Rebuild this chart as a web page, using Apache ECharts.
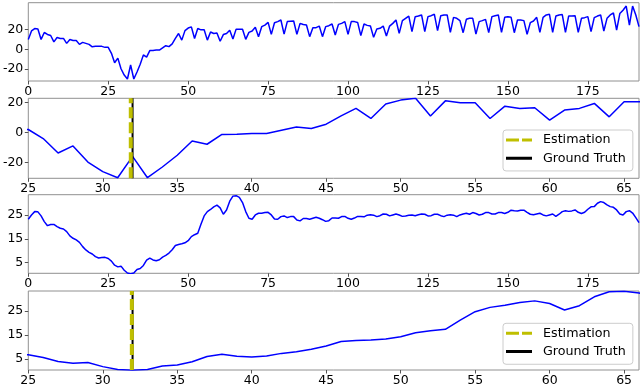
<!DOCTYPE html>
<html>
<head>
<meta charset="utf-8">
<script src="https://cdn.jsdelivr.net/npm/echarts@6/dist/echarts.min.js"></script>
<style>
html,body{margin:0;padding:0;background:#fff;}
#c{width:640px;height:385px;}
</style>
</head>
<body>
<div id="c"></div>
<script>
// Raw signal (panels 1 & 2), index 0..191
var rawSignal = [10,18.6,21,20.5,10,17,15,14,7.5,12,11,11,6,10,9,9,5,7,6,5,2.5,3,3,3,2,
2,-4,-13.6,-8.9,-19.6,-26,-30,-15.8,-30,-22.9,-15.1,-5.6,-7.8,-1.3,-1.1,-0.7,-0.7,1.5,3.7,2.7,
5.5,11,16,9.3,18.9,21.5,22.7,11,21,19.7,19.7,9.3,17.5,16,16.4,8.2,14.9,16,19.3,10.4,20.4,20.4,
20.2,10.1,17.1,18.5,22.2,12.8,22.9,24.5,27.2,15.1,26.9,28,29.6,15.4,28,28.3,28.6,15.1,26.2,25,24.5,
12.8,21.9,21.9,23.5,12.8,22.9,23.9,25.6,14.4,25.2,26.2,28,15.1,28,28,27.2,13.8,25.6,24.2,23.5,
12.1,20.5,21.2,23.5,13.4,23.5,26.2,29.6,16.1,29,31.3,33.6,17.8,33,33.6,34.7,17.8,33,34,35.4,
18.9,34,34.7,34.7,17.1,32.3,31.3,29,16.8,30.3,31.3,31.3,15.4,28,29,30.3,16.8,33,34,34.7,
17.1,32.3,33,32.3,16.8,29.6,29.6,29,15.1,26.9,28.6,32.3,17.1,32.3,34.7,35.4,17.1,33.6,34.7,35.1,
17.1,33.6,33.6,34,17.1,31.3,32,33,17.8,32,33.6,34.7,18.5,31.3,34.7,36.7,19.5,36.1,39.4,43.7,
24.5,43.7,34.7,22.9];
// Smoothed signal (panels 3 & 4), index 0..191
var smoothSignal = [23.2,25,26.4,26.3,24.6,22.2,20.5,21,21,20.1,19.4,19.1,18,16.2,15.2,14.5,13.5,11.7,10.3,9.3,8.6,7.5,6.9,7.1,7.2,
6.7,5.6,3.9,3.2,3.5,1.8,0.6,0.3,0.6,2.1,2.5,3.8,6,6.9,6.1,5.8,6.2,7.3,8,9,
10.4,12.2,12.6,12.9,13.3,14.2,15.9,16.7,17.3,21.1,24.6,26.4,27.3,28.4,29.1,28,25.3,27.1,30.8,32.9,33.1,32.4,
30.2,26.4,23.6,23.2,25,25.7,25.7,26,26.1,25,23.3,23.2,24.3,24.6,23.9,24.3,24.3,22.9,22.5,23.5,23.5,23.2,23.6,24,
23.6,23,22.3,22.6,23.7,23.7,23.6,24.3,24.4,23.6,23.2,23.7,24.4,24.3,24.2,24.9,25.1,24.9,24.3,24.7,
25.4,25.3,24.6,25,25.4,25,24.4,24.6,24.9,25,24.7,25.1,25.4,25.3,24.6,24.7,25.3,25.3,24.7,24.3,
24.9,25.1,24.9,24.3,25,25.4,25.7,25.3,26,25.6,25,25.3,26,26,25.4,25.4,26,26,25.6,26.1,
27,26.8,26.7,27,27,26.1,25.3,25.1,25.4,25.7,25,24.6,25,25.4,24.4,25.3,26.4,26.8,26.5,26.7,
27.1,26.1,25.6,26.1,27.4,28.4,28.5,29.9,30.6,30.2,29.2,28.5,28.2,27.1,25.4,25,26.4,26.8,25.8,23.9,21.8];
var fullTicks = [0,25,50,75,100,125,150,175];
var zoomTicks = [25,30,35,40,45,50,55,60,65];
var rawYTicks = [-20,0,20];
var smoothYTicks = [5,15,25];
var estimationX = [31.88, 31.95];   // panel 2, panel 4
var groundTruthX = 32;
var legendNames = ['Estimation','Ground Truth'];

function pts(arr){ return arr.map(function(v,i){ return [i,v]; }); }

var FONT = 'DejaVu Sans';
var FS = 12.5;
var lims = [
  {xmin:0, xmax:191, ymin:-32, ymax:47.1, xt:fullTicks, yt:rawYTicks, top:2.7, h:78.3},
  {xmin:25, xmax:66, ymin:-30.4, ymax:22.7, xt:zoomTicks, yt:rawYTicks, top:98.3, h:80},
  {xmin:0, xmax:191, ymin:0.5, ymax:33.5, xt:fullTicks, yt:smoothYTicks, top:194.7, h:78.6},
  {xmin:25, xmax:66, ymin:0.4, ymax:33.2, xt:zoomTicks, yt:smoothYTicks, top:291, h:79}
];
var grids=[], xAxes=[], yAxes=[], series=[];
lims.forEach(function(L, k){
  grids.push({left:28.3, width:610.7, top:L.top, height:L.h, show:true, borderColor:'#909090', borderWidth:1, backgroundColor:'#fff', containLabel:false, outerBoundsMode:'none'});
  xAxes.push({type:'value', gridIndex:k, min:L.xmin, max:L.xmax,
    axisLine:{show:false, onZero:false}, splitLine:{show:false},
    axisTick:{show:true, inside:false, length:3.5, lineStyle:{color:'#555'}, customValues:L.xt},
    axisLabel:{color:'#000', fontFamily:FONT, fontSize:FS, margin:4, customValues:L.xt}});
  yAxes.push({type:'value', gridIndex:k, min:L.ymin, max:L.ymax,
    axisLine:{show:false, onZero:false}, splitLine:{show:false},
    axisTick:{show:true, inside:false, length:3.5, lineStyle:{color:'#555'}, customValues:L.yt},
    axisLabel:{color:'#000', fontFamily:FONT, fontSize:FS, margin:5, customValues:L.yt}});
  var d = (k<2) ? rawSignal : smoothSignal;
  series.push({type:'line', xAxisIndex:k, yAxisIndex:k, data:pts(d), showSymbol:false, symbol:'none',
    lineStyle:{color:'#0000ff', width:1.5}, clip:true, animation:false, silent:true, z:2});
  if(k===1 || k===3){
    var ex = estimationX[k===1?0:1];
    series.push({name:legendNames[1], type:'line', xAxisIndex:k, yAxisIndex:k,
      data:[[groundTruthX, L.ymin],[groundTruthX, L.ymax]], symbol:'none', showSymbol:false,
      lineStyle:{color:'#000', width:2}, itemStyle:{color:'#000'}, animation:false, z:3});
    series.push({name:legendNames[0], type:'line', xAxisIndex:k, yAxisIndex:k,
      data:[[ex, L.ymin],[ex, L.ymax]], symbol:'none', showSymbol:false,
      lineStyle:{color:'#bfbf00', width:4, type:[11,4]}, itemStyle:{color:'#bfbf00'}, animation:false, z:4});
  }
});
function mkLegend(top){
  return {show:true, orient:'vertical', left:503, top:top, itemWidth:32, itemHeight:3, itemGap:4,
    padding:[2.85,7,5.5,3], backgroundColor:'#fff', borderColor:'#ccc', borderWidth:1, borderRadius:3,
    textStyle:{color:'#000', fontFamily:FONT, fontSize:12.7, lineHeight:14.3},
    data:[{name:legendNames[0], icon:'path://M0,0h13v3h-13zM16,0h10v3h-10zM31.99,0h0.01v0.01h-0.01z', itemStyle:{color:'#bfbf00'}},
          {name:legendNames[1], icon:'path://M0,0h26v3h-26zM31.99,0h0.01v0.01h-0.01z', itemStyle:{color:'#000'}}],
    selectedMode:false};
}
var chart = echarts.init(document.getElementById('c'), null, {renderer:'canvas'});
chart.setOption({animation:false, grid:grids, xAxis:xAxes, yAxis:yAxes, series:series,
  legend:[mkLegend(130), mkLegend(323.3)]});
</script>
</body>
</html>
